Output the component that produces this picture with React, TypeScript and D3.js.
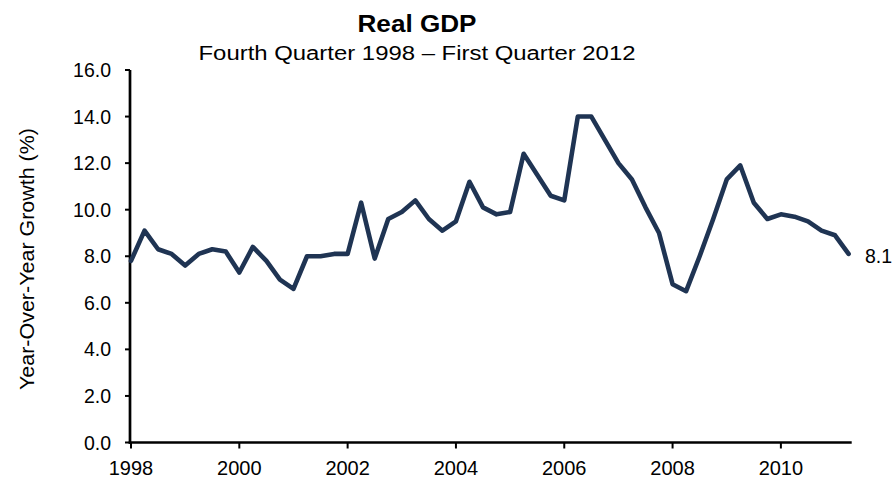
import React from "react";
import * as d3 from "d3";

// Real GDP, year-over-year growth (%), Q4 1998 – Q1 2012 (quarterly)
const startYear = 1998; // first point: Q4 1998
const growth: number[] = [
  7.8, 9.1, 8.3, 8.1, 7.6, 8.1, 8.3, 8.2, 7.3, 8.4, 7.8, 7.0, 6.6, 8.0,
  8.0, 8.1, 8.1, 10.3, 7.9, 9.6, 9.9, 10.4, 9.6, 9.1, 9.5, 11.2, 10.1, 9.8,
  9.9, 12.4, 11.5, 10.6, 10.4, 14.0, 14.0, 13.0, 12.0, 11.3, 10.1, 9.0, 6.8,
  6.5, 8.0, 9.6, 11.3, 11.9, 10.3, 9.6, 9.8, 9.7, 9.5, 9.1, 8.9, 8.1,
];
const yearTicks: number[] = [1998, 2000, 2002, 2004, 2006, 2008, 2010];
const yTicks: number[] = [0, 2, 4, 6, 8, 10, 12, 14, 16];
const title = "Real GDP";
const subtitle = "Fourth Quarter 1998 – First Quarter 2012";
const yTitle = "Year-Over-Year Growth (%)";

const W = 895;
const H = 478;
const FONT = "'Liberation Sans', Arial, Helvetica, sans-serif";
const LINE_COLOR = "#1f3453";

export default function App() {
  const x = d3.scaleLinear().domain([0, 53.23]).range([131, 851.7]);
  const y = d3.scaleLinear().domain([0, 16]).range([442.5, 70]);
  const line = d3
    .line<number>()
    .x((_, i) => x(i))
    .y((d) => y(d));

  const yearToIndex = (yr: number) => (yr - startYear) * 4;
  const last = growth.length - 1;

  return (
    <svg
      width={W}
      height={H}
      style={{ position: "absolute", left: 0, top: 0, background: "#fff" }}
      fontFamily={FONT}
    >
      <rect x={0} y={0} width={W} height={H} fill="#fff" />
      {/* Titles */}
      <text
        x={417}
        y={32}
        textAnchor="middle"
        fontSize={24}
        fontWeight="bold"
        textLength={119}
        lengthAdjust="spacingAndGlyphs"
      >
        {title}
      </text>
      <text
        x={417}
        y={59.5}
        textAnchor="middle"
        fontSize={19.5}
        textLength={437}
        lengthAdjust="spacingAndGlyphs"
      >
        {subtitle}
      </text>

      {/* Y axis title */}
      <text
        transform={`translate(33.5, 259) rotate(-90)`}
        textAnchor="middle"
        fontSize={19.5}
        textLength={262}
        lengthAdjust="spacingAndGlyphs"
      >
        {yTitle}
      </text>

      {/* Y axis ticks & labels */}
      {yTicks.map((t) => (
        <g key={t}>
          <line x1={125} x2={130} y1={y(t)} y2={y(t)} stroke="#000" strokeWidth={2} />
          <text x={111} y={y(t) + 7} textAnchor="end" fontSize={19.5}>
            {t.toFixed(1)}
          </text>
        </g>
      ))}

      {/* X axis ticks & labels */}
      {yearTicks.map((yr) => (
        <g key={yr}>
          <line
            x1={x(yearToIndex(yr))}
            x2={x(yearToIndex(yr))}
            y1={y(0)}
            y2={y(0) + 6}
            stroke="#000"
            strokeWidth={2}
          />
          <text x={x(yearToIndex(yr))} y={474.5} textAnchor="middle" fontSize={20}>
            {yr}
          </text>
        </g>
      ))}

      {/* Axes */}
      <line x1={130} x2={130} y1={y(16)} y2={y(0) + 1.3} stroke="#000" strokeWidth={2.7} />
      <line x1={128.7} x2={851.7} y1={y(0)} y2={y(0)} stroke="#000" strokeWidth={2.7} />

      {/* Series */}
      <path
        d={line(growth) || ""}
        fill="none"
        stroke={LINE_COLOR}
        strokeWidth={4.6}
        strokeLinejoin="round"
        strokeLinecap="round"
      />

      {/* End label */}
      <text x={865} y={263} fontSize={19.5}>
        {growth[last].toFixed(1)}
      </text>
    </svg>
  );
}
